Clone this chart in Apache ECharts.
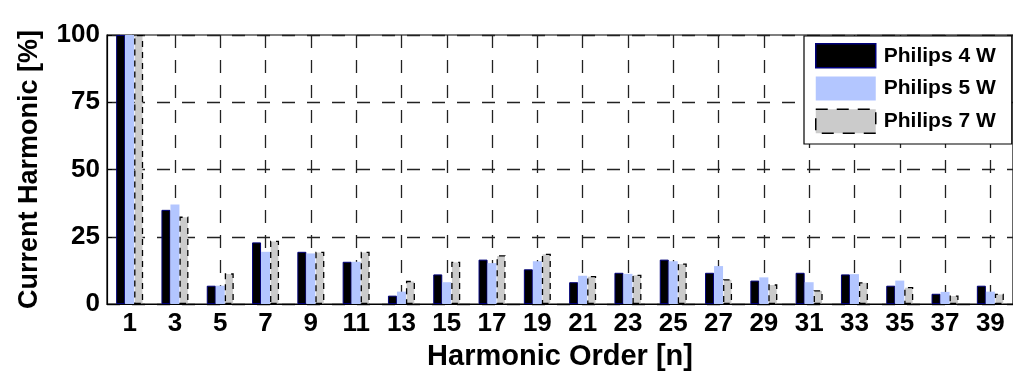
<!DOCTYPE html>
<html>
<head>
<meta charset="utf-8">
<script src="https://cdn.jsdelivr.net/npm/echarts@6/dist/echarts.min.js"></script>
<style>
html,body{margin:0;padding:0;background:#fff;}
#c{width:1013px;height:378px;}
</style>
</head>
<body>
<div id="c"></div>
<script>
const categories = ['1','3','5','7','9','11','13','15','17','19','21','23','25','27','29','31','33','35','37','39'];
const seriesNames = ['Philips 4 W','Philips 5 W','Philips 7 W'];
const philips4W = [100, 35, 6.8, 22.9, 19.4, 15.7, 3.1, 11.0, 16.5, 12.9, 8.1, 11.6, 16.5, 11.6, 8.7, 11.6, 11.0, 6.8, 3.8, 6.8];
const philips5W = [100, 37, 6.8, 19.4, 18.8, 15.7, 4.6, 8.1, 15.2, 15.9, 10.5, 11.2, 15.9, 14.1, 9.9, 8.1, 11.1, 8.7, 4.5, 4.6];
const philips7W = [100, 32.5, 11.4, 23.5, 19.4, 19.4, 8.6, 15.7, 18.1, 18.7, 10.4, 10.9, 15.1, 9.2, 7.3, 5.1, 8.1, 6.3, 3.2, 3.8];
const yTicks = [0, 25, 50, 75, 100];

const FONT = "'Liberation Sans', Arial, sans-serif";
const chart = echarts.init(document.getElementById('c'), null, {renderer: 'canvas'});

const gridLine = {show: true, lineStyle: {color: '#222', width: 1.3, type: [13, 12]}};
const styles = [
  {color: '#000', borderColor: '#00007a', borderWidth: 1},
  {color: '#b3c6ff', borderColor: '#b3c6ff', borderWidth: 0},
  {color: '#cbcbcb', borderColor: '#000', borderWidth: 1.3, borderType: [6, 5]}
];
const legendStyles = [
  {color: '#000', borderColor: '#00007a', borderWidth: 1.5},
  {color: '#b3c6ff', borderColor: '#b3c6ff', borderWidth: 0},
  {color: '#cbcbcb', borderColor: '#000', borderWidth: 1.5, borderType: [12, 9]}
];
const seriesData = [philips4W, philips5W, philips7W];

chart.setOption({
  animation: false,
  backgroundColor: '#fff',
  grid: {left: 107, top: 35, right: 0, bottom: 74, show: true, borderColor: '#000', borderWidth: 1.2, backgroundColor: 'transparent'},
  legend: {
    orient: 'vertical',
    left: 804, top: 36,
    padding: [7, 16, 10, 11],
    itemWidth: 60, itemHeight: 24, itemGap: 8,
    icon: 'rect',
    backgroundColor: '#fff', borderColor: '#000', borderWidth: 1.2,
    textStyle: {fontFamily: FONT, fontSize: 21, fontWeight: 'bold', color: '#000', padding: [0, 0, 0, 3]},
    data: seriesNames.map((n, i) => ({name: n, icon: 'rect', itemStyle: legendStyles[i]}))
  },
  xAxis: {
    type: 'category',
    data: categories,
    boundaryGap: true,
    name: 'Harmonic Order [n]',
    nameLocation: 'middle',
    nameGap: 38,
    nameTextStyle: {fontFamily: FONT, fontSize: 29, fontWeight: 'bold', color: '#000'},
    axisLine: {show: true, lineStyle: {color: '#000', width: 1.2}},
    axisTick: {show: false},
    axisLabel: {fontFamily: FONT, fontSize: 26, fontWeight: 'bold', color: '#000', margin: 7, interval: 0},
    splitLine: Object.assign({alignWithLabel: true, interval: 0}, gridLine)
  },
  yAxis: {
    type: 'value',
    min: yTicks[0], max: yTicks[yTicks.length - 1], interval: 25,
    name: 'Current Harmonic [%]',
    nameLocation: 'middle',
    nameGap: 64,
    nameTextStyle: {fontFamily: FONT, fontSize: 27, fontWeight: 'bold', color: '#000'},
    axisLine: {show: true, lineStyle: {color: '#000', width: 1.2}},
    axisTick: {show: true, inside: true, length: 5, lineStyle: {color: '#000'}},
    axisLabel: {fontFamily: FONT, fontSize: 26, fontWeight: 'bold', color: '#000', margin: 7},
    splitLine: gridLine
  },
  series: seriesNames.map((n, i) => ({
    name: n, type: 'bar', data: seriesData[i], barWidth: 9, barGap: '0%',
    itemStyle: styles[i]
  }))
});
</script>
</body>
</html>
